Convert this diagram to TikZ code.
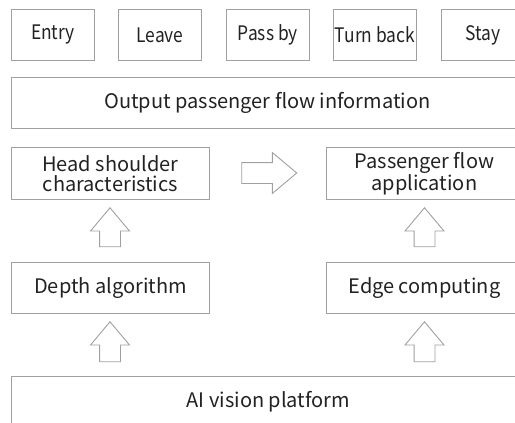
\documentclass[tikz,border=0pt]{standalone}
\usepackage{fontspec}
\setmainfont{Noto Sans CJK SC}
\newfontfamily\tagfont[FakeStretch=0.87]{Noto Sans CJK SC}
\usetikzlibrary{shapes.arrows}
\definecolor{boxline}{HTML}{A0A0A0}
\definecolor{boxtext}{HTML}{222222}
\begin{document}
\begin{tikzpicture}[x=1pt,y=-1pt,
    box/.style={draw=boxline,line width=0.9pt,text=boxtext,anchor=north west,
      inner sep=0pt,align=center,font=\fontsize{20}{20}\selectfont},
    tag/.style={box,minimum width=83pt,minimum height=51pt,
      font=\tagfont\fontsize{20}{20}\selectfont},
    blockarrow/.style={single arrow,draw=boxline,line width=0.9pt,inner xsep=0pt,
      inner ysep=10pt,single arrow head extend=10pt,single arrow tip angle=80},
    uparrow/.style={blockarrow,inner xsep=10pt,inner ysep=0pt,
      single arrow head extend=9pt,shape border rotate=90}]
  \useasboundingbox (0,0) rectangle (515,423);
  \clip (0,0) rectangle (515,423);
  % output states
  \node[tag] (entry) at (11,9) {Entry};
  \node[tag] (leave) at (118,9) {Leave};
  \node[tag] (pass) at (226,9) {Pass by};
  \node[tag] (turn) at (333,9) {Turn back};
  \node[tag] (stay) at (441,9) {Stay};
  \node[box,minimum width=512pt,minimum height=51pt] (out) at (11,77) {Output passenger flow information};
  % middle layer
  \node[box,minimum width=198pt,minimum height=52pt] (head) at (11,147) {Head shoulder\\characteristics};
  \node[box,minimum width=196pt,minimum height=52pt] (app) at (326,147) {Passenger flow\\application};
  \node[box,minimum width=198pt,minimum height=51pt] (depth) at (11,262) {Depth algorithm};
  \node[box,minimum width=196pt,minimum height=51pt] (edge) at (326,262) {Edge computing};
  \node[box,minimum width=514pt,minimum height=60pt,text depth=14pt] (ai) at (11,376) {AI vision platform};
  % block arrows
  \node[blockarrow,minimum height=55pt] (h2a) at (263,173) {};
  \node[uparrow,minimum height=39pt] (d2h) at (110,233.5) {};
  \node[uparrow,minimum height=39pt] (e2a) at (424.5,233.5) {};
  \node[uparrow,minimum height=40pt] (p2d) at (110,348) {};
  \node[uparrow,minimum height=40pt] (p2e) at (424.5,348) {};
\end{tikzpicture}
\end{document}
